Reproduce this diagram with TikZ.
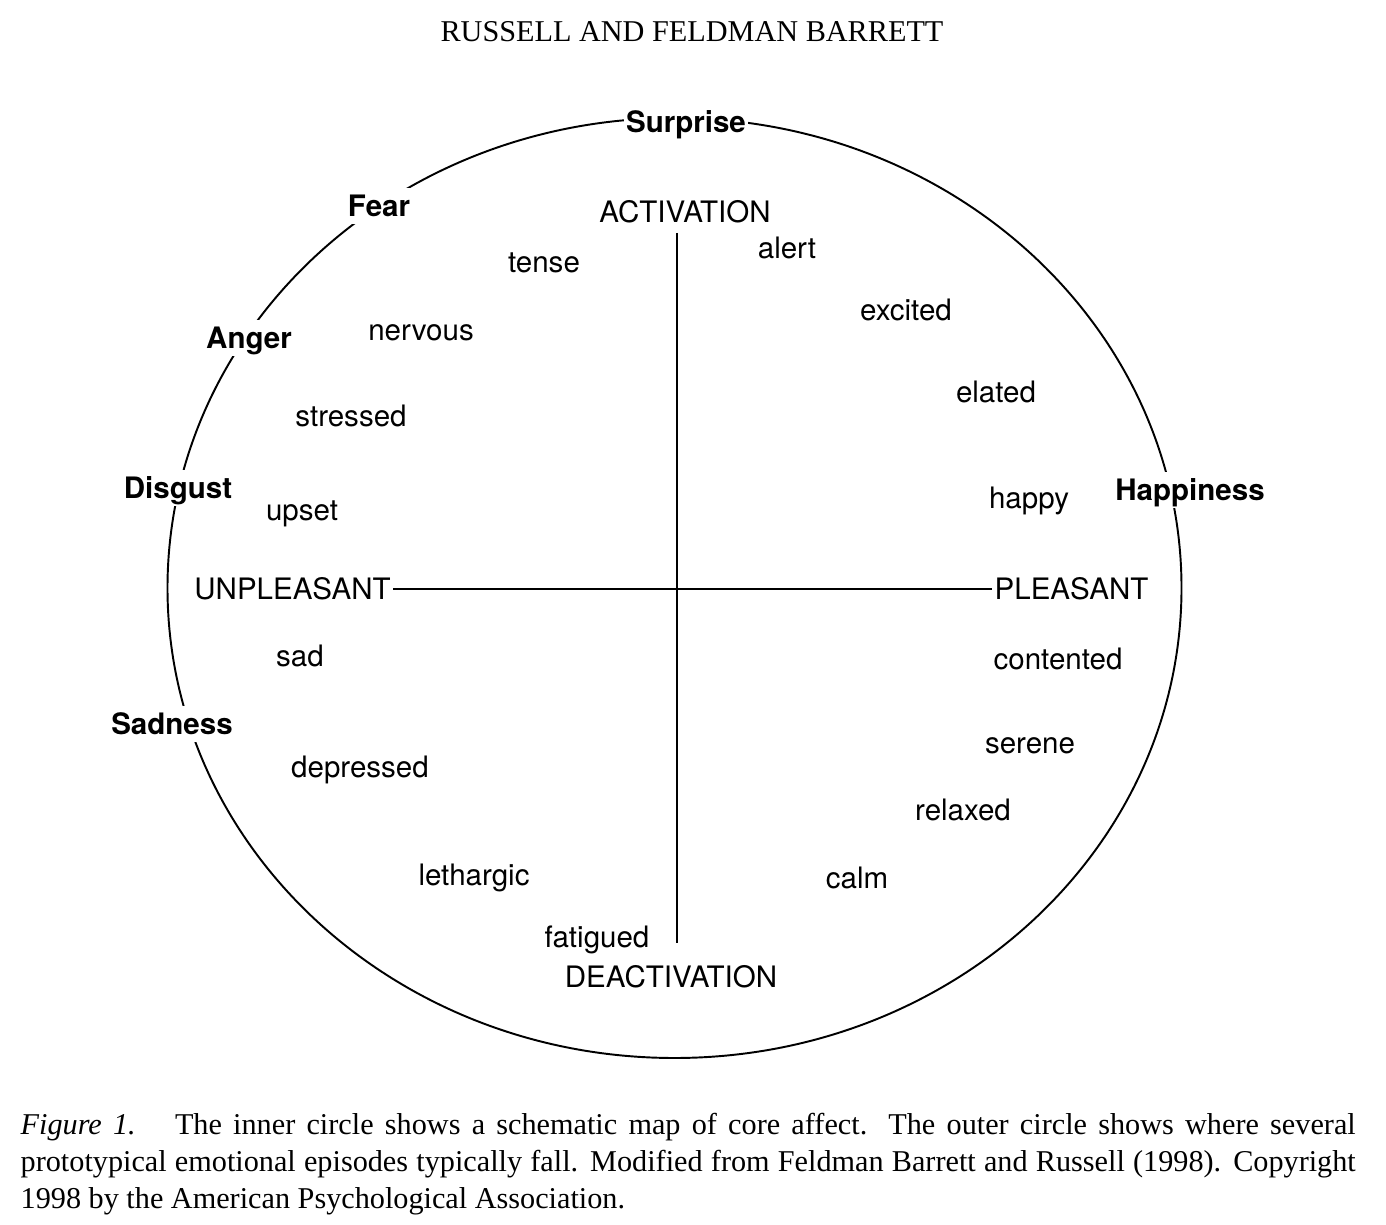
\documentclass[tikz,border=0pt]{standalone}
\usepackage{fontspec}
\setmainfont{Liberation Serif}
\newfontfamily\helv{TeX Gyre Heros}
\usepackage{tikz}
\usetikzlibrary{positioning,calc}

\tikzset{
  emotion/.style={font={\helv\bfseries\fontsize{8.4}{10}\selectfont}, fill=white, inner sep=2.2pt, text height=6pt, text depth=0pt},
  affect/.style={font={\helv\fontsize{8.4}{10}\selectfont}, inner sep=0.5pt, text height=6pt, text depth=0pt},
  ring/.style={line width=0.55pt},
  axis/.style={line width=0.6pt}
}

\begin{document}
\begin{tikzpicture}
        \useasboundingbox (0,0) rectangle (13.86,12.24);

        % Running head
        \node[font={\fontsize{8.6}{10}\selectfont}] (head) at (6.92, 11.92) {RUSSELL AND FELDMAN BARRETT};

        % Outer circle (prototypical emotional episodes)
        \draw[ring] (6.745, 6.36) ellipse [x radius=5.07, y radius=4.70];

        \node[emotion, inner xsep=0.6pt] (surprise) at (6.86, 11.02) {Surprise};
        \node[emotion] (fear) at (3.79, 10.18) {Fear};
        \node[emotion] (anger) at (2.49, 8.86) {Anger};
        \node[emotion] (disgust) at (1.78, 7.36) {Disgust};
        \node[emotion] (sadness) at (1.72, 5.00) {Sadness};
        \node[emotion] (happiness) at (11.90, 7.34) {Happiness};

        % Axes of core affect
        \node[affect] (act) at (6.85, 10.12) {ACTIVATION};
        \node[affect] (deact) at (6.71, 2.47) {DEACTIVATION};
        \node[affect] (unpl) at (2.925, 6.35) {UNPLEASANT};
        \node[affect] (pleas) at (10.715, 6.35) {PLEASANT};

        \coordinate (vtop) at (6.77, 9.91);
        \coordinate (vbot) at (6.77, 2.81);
        \draw[axis] (vtop) -- (vbot);
        \draw[axis] (unpl.east) -- (pleas.west);

        % Inner circle: core affect words
        % activated unpleasant
        \node[affect] (tense) at (5.44, 9.62) {tense};
        \node[affect] (nervous) at (4.21, 8.94) {nervous};
        \node[affect] (stressed) at (3.51, 8.08) {stressed};
        \node[affect] (upset) at (3.02, 7.14) {upset};
        % activated pleasant
        \node[affect] (alert) at (7.87, 9.765) {alert};
        \node[affect] (excited) at (9.06, 9.14) {excited};
        \node[affect] (elated) at (9.96, 8.32) {elated};
        \node[affect] (happy) at (10.29, 7.265) {happy};
        % deactivated unpleasant
        \node[affect] (sad) at (3.00, 5.685) {sad};
        \node[affect] (depressed) at (3.60, 4.57) {depressed};
        \node[affect] (lethargic) at (4.74, 3.49) {lethargic};
        \node[affect] (fatigued) at (5.97, 2.87) {fatigued};
        % deactivated pleasant
        \node[affect] (contented) at (10.58, 5.65) {contented};
        \node[affect] (serene) at (10.30, 4.815) {serene};
        \node[affect] (relaxed) at (9.63, 4.14) {relaxed};
        \node[affect] (calm) at (8.57, 3.46) {calm};

        % Caption
        \node[anchor=north west, inner sep=0pt, text width=13.35cm, align=justify,
              font={\fontsize{8.6}{10.4}\selectfont}] (caption) at (0.20, 1.11)
              {\textit{Figure 1.}\hspace{0.6em} The inner circle shows a schematic map of core affect. The outer circle shows where several\linebreak
               prototypical emotional episodes typically fall. Modified from Feldman Barrett and Russell (1998). Copyright\linebreak
               1998 by the American Psychological Association.};
\end{tikzpicture}
\end{document}
